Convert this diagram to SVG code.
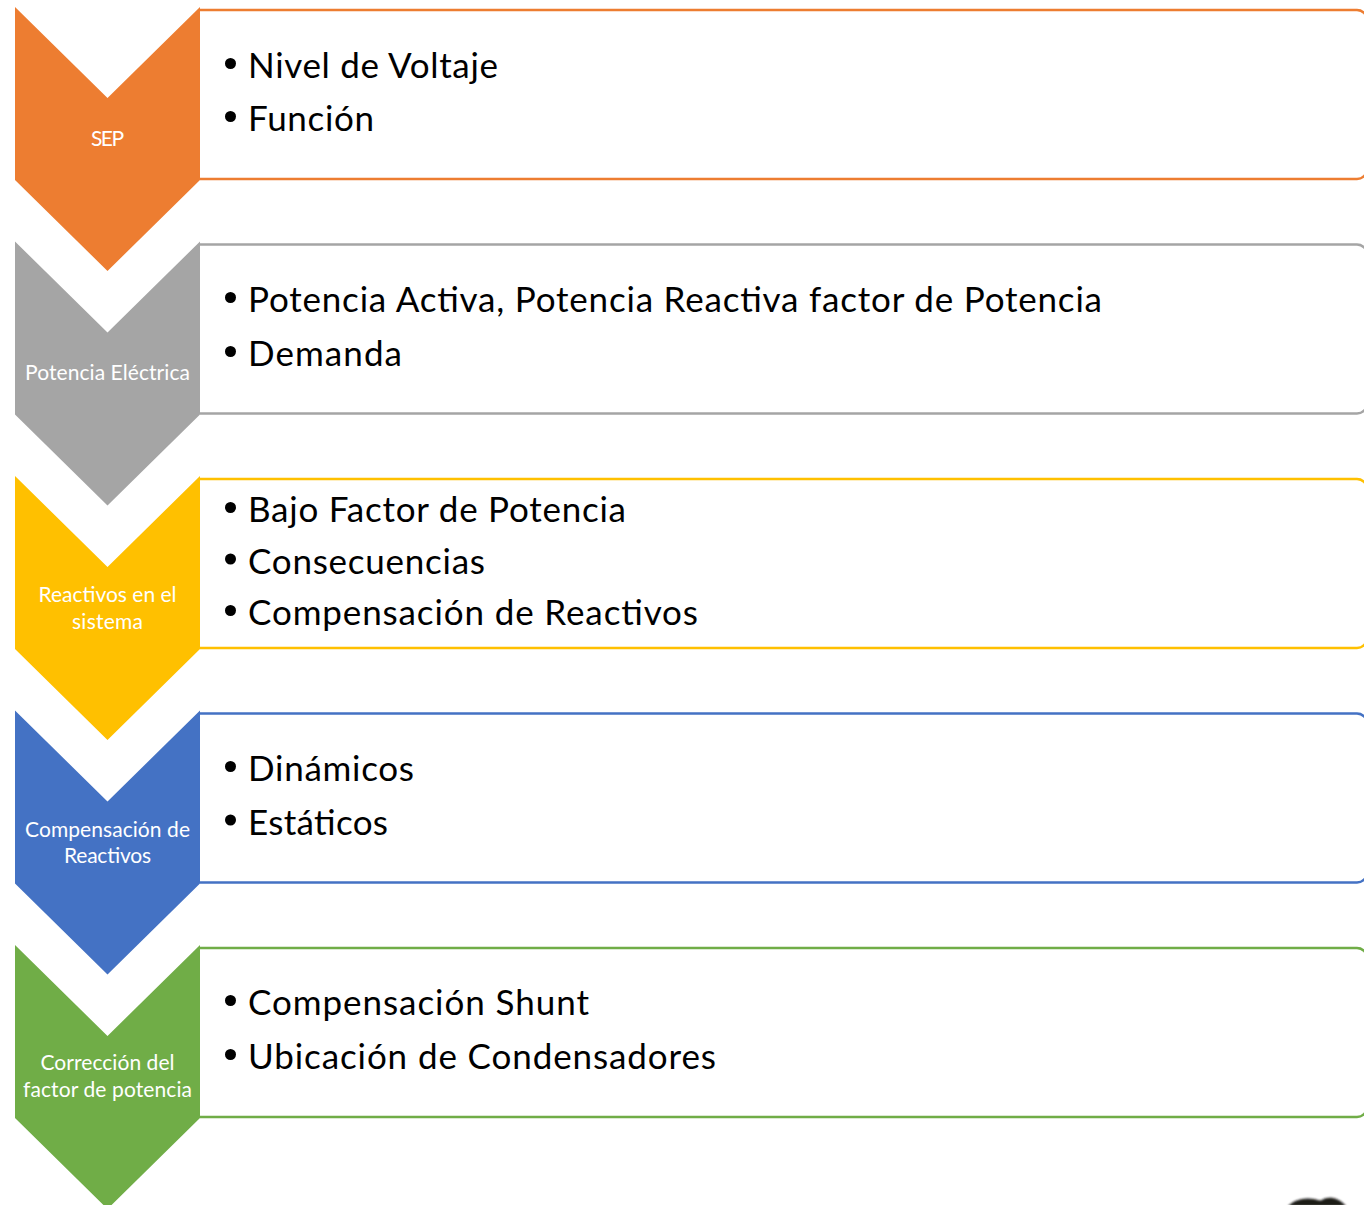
<svg xmlns="http://www.w3.org/2000/svg" width="1364" height="1205" viewBox="0 0 1364 1205">
  <defs>
    <style>
      .box { fill: #ffffff; stroke-width: 2.5; }
      .chev { stroke: none; }
      .lbl { font-family: Lato, "Open Sans", "Liberation Sans", sans-serif; font-size: 21px; fill: #ffffff; text-anchor: middle; }
      .item { font-family: Lato, "Open Sans", "Liberation Sans", sans-serif; font-size: 35px; fill: #000000; }
      .dot { fill: #000000; }
      .orange { fill: #ED7D31; } .orangeS { stroke: #ED7D31; }
      .gray { fill: #A5A5A5; } .grayS { stroke: #A5A5A5; }
      .yellow { fill: #FFC000; } .yellowS { stroke: #FFC000; }
      .blue { fill: #4472C4; } .blueS { stroke: #4472C4; }
      .green { fill: #70AD47; } .greenS { stroke: #70AD47; }
    </style>
    <filter id="soft" x="-20%" y="-50%" width="140%" height="200%">
      <feGaussianBlur stdDeviation="1.2"/>
    </filter>
  </defs>
  <rect width="1364" height="1205" fill="#ffffff"/>

  <!-- Step 1: SEP -->
  <g id="step-sep">
    <path class="box orangeS" d="M200,10 H1357 A10,10 0 0 1 1367,20 V169 A10,10 0 0 1 1357,179 H200"/>
    <polygon class="chev orange" points="15,7 107.5,98 200,7 200,180 107.5,271 15,180"/>
    <text class="lbl" x="107.5" y="146" textLength="33" lengthAdjust="spacing">SEP</text>
    <circle class="dot" cx="230.5" cy="63.5" r="5.5"/>
    <text class="item" x="248" y="78" textLength="250" lengthAdjust="spacing">Nivel de Voltaje</text>
    <circle class="dot" cx="230.5" cy="116.5" r="5.5"/>
    <text class="item" x="248" y="131" textLength="126" lengthAdjust="spacing">Función</text>
  </g>

  <!-- Step 2: Potencia Eléctrica -->
  <g id="step-potencia">
    <path class="box grayS" d="M200,244.5 H1357 A10,10 0 0 1 1367,254.5 V403.5 A10,10 0 0 1 1357,413.5 H200"/>
    <polygon class="chev gray" points="15,241.5 107.5,332.5 200,241.5 200,414.5 107.5,505.5 15,414.5"/>
    <text class="lbl" x="107.5" y="380" textLength="165" lengthAdjust="spacing">Potencia Eléctrica</text>
    <circle class="dot" cx="230.5" cy="297.5" r="5.5"/>
    <text class="item" x="248" y="312" textLength="854" lengthAdjust="spacing">Potencia Activa, Potencia Reactiva factor de Potencia</text>
    <circle class="dot" cx="230.5" cy="351.5" r="5.5"/>
    <text class="item" x="248" y="366" textLength="154" lengthAdjust="spacing">Demanda</text>
  </g>

  <!-- Step 3: Reactivos en el sistema -->
  <g id="step-reactivos">
    <path class="box yellowS" d="M200,479 H1357 A10,10 0 0 1 1367,489 V638 A10,10 0 0 1 1357,648 H200"/>
    <polygon class="chev yellow" points="15,476 107.5,567 200,476 200,649 107.5,740 15,649"/>
    <text class="lbl" x="107.5" y="602" textLength="138" lengthAdjust="spacing">Reactivos en el</text>
    <text class="lbl" x="107.5" y="629" textLength="71" lengthAdjust="spacing">sistema</text>
    <circle class="dot" cx="230.5" cy="507.5" r="5.5"/>
    <text class="item" x="248" y="522" textLength="378" lengthAdjust="spacing">Bajo Factor de Potencia</text>
    <circle class="dot" cx="230.5" cy="559" r="5.5"/>
    <text class="item" x="248" y="573.5" textLength="237" lengthAdjust="spacing">Consecuencias</text>
    <circle class="dot" cx="230.5" cy="610.5" r="5.5"/>
    <text class="item" x="248" y="625" textLength="450" lengthAdjust="spacing">Compensación de Reactivos</text>
  </g>

  <!-- Step 4: Compensación de Reactivos -->
  <g id="step-compensacion">
    <path class="box blueS" d="M200,713.5 H1357 A10,10 0 0 1 1367,723.5 V872.5 A10,10 0 0 1 1357,882.5 H200"/>
    <polygon class="chev blue" points="15,710.5 107.5,801.5 200,710.5 200,883.5 107.5,974.5 15,883.5"/>
    <text class="lbl" x="107.5" y="837" textLength="165" lengthAdjust="spacing">Compensación de</text>
    <text class="lbl" x="107.5" y="863" textLength="87" lengthAdjust="spacing">Reactivos</text>
    <circle class="dot" cx="230.5" cy="766.5" r="5.5"/>
    <text class="item" x="248" y="781" textLength="166" lengthAdjust="spacing">Dinámicos</text>
    <circle class="dot" cx="230.5" cy="820" r="5.5"/>
    <text class="item" x="248" y="834.5" textLength="140" lengthAdjust="spacing">Estáticos</text>
  </g>

  <!-- Step 5: Corrección del factor de potencia -->
  <g id="step-correccion">
    <path class="box greenS" d="M200,948 H1357 A10,10 0 0 1 1367,958 V1107 A10,10 0 0 1 1357,1117 H200"/>
    <polygon class="chev green" points="15,945 107.5,1036 200,945 200,1118 107.5,1209 15,1118"/>
    <text class="lbl" x="107.5" y="1070" textLength="134" lengthAdjust="spacing">Corrección del</text>
    <text class="lbl" x="107.5" y="1097" textLength="169" lengthAdjust="spacing">factor de potencia</text>
    <circle class="dot" cx="230.5" cy="1000.5" r="5.5"/>
    <text class="item" x="248" y="1015" textLength="341" lengthAdjust="spacing">Compensación Shunt</text>
    <circle class="dot" cx="230.5" cy="1054.5" r="5.5"/>
    <text class="item" x="248" y="1069" textLength="468" lengthAdjust="spacing">Ubicación de Condensadores</text>
  </g>

  <!-- dark fragment at the lower right corner -->
  <g id="corner-fragment" filter="url(#soft)">
    <path d="M1288,1206 C1294,1200 1304,1197 1314,1199 C1318,1200 1320,1201 1322,1200 C1328,1196 1338,1197 1346,1206 Z" fill="#1e1a18"/>
  </g>
</svg>
